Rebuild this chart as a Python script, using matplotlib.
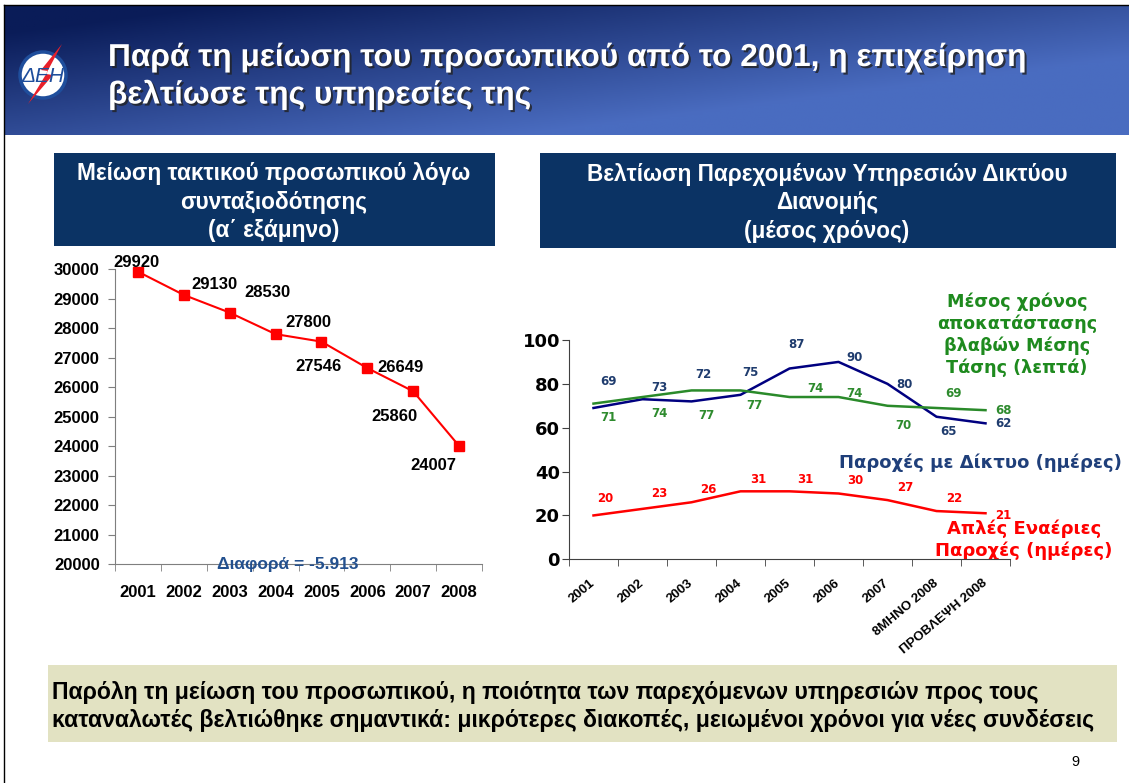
import numpy as np
import matplotlib
matplotlib.use("Agg")
import matplotlib.pyplot as plt
import matplotlib.patheffects as pe
from matplotlib.patches import Rectangle, Circle, Polygon

# ---- data ----
staff_years = ["2001", "2002", "2003", "2004", "2005", "2006", "2007", "2008"]
staff = [29920, 29130, 28530, 27800, 27546, 26649, 25860, 24007]
staff_diff = "Διαφορά = -5.913"

svc_labels = ["2001", "2002", "2003", "2004", "2005", "2006", "2007",
              "8ΜΗΝΟ 2008", "ΠΡΟΒΛΕΨΗ 2008"]
network = [69, 73, 72, 75, 87, 90, 80, 65, 62]     # Παροχές με Δίκτυο
repair = [71, 74, 77, 77, 74, 74, 70, 69, 68]      # Μέσος χρόνος αποκατάστασης
simple = [20, 23, 26, 31, 31, 30, 27, 22, 21]      # Απλές Εναέριες Παροχές

# label offsets (pixels) for data labels
staff_off = [(-2, 9), (31, 10), (38, 20), (33, 12), (-3, -25), (33, 1), (-19, -25), (-26, -20)]
net_off = [(15, 26), (17, 12), (12, 27), (10, 22), (7, 24), (16, 4), (17, -1), (12, -15), (18, 0)]
rep_off = [(15, -14), (17, -16), (15, -25), (14, -15), (26, 9), (16, 4), (16, -20), (17, 14), (18, 0)]
sim_off = [(12, 17), (17, 15), (17, 13), (18, 12), (16, 12), (17, 13), (18, 13), (18, 13), (18, -2)]

W, H = 1129, 783
fig = plt.figure(figsize=(W / 100, H / 100), dpi=100)
fig.patch.set_facecolor("white")

bg = fig.add_axes([0, 0, 1, 1])
bg.set_xlim(0, W)
bg.set_ylim(H, 0)
bg.axis("off")

# banner gradient
gx, gy = np.meshgrid(np.linspace(0, 1, 400), np.linspace(0, 1, 60))
t = np.clip(0.85 * gx + 0.75 * gy - 0.15, 0, 1)
c0 = np.array([0x0a, 0x1c, 0x58]) / 255
c1 = np.array([0x4a, 0x6c, 0xc0]) / 255
grad = c0 + (c1 - c0) * t[..., None]
bg.imshow(grad, extent=[5, W, 135, 6], aspect="auto", zorder=0)

# slide frame
bg.plot([3.5, 3.5], [5, H], color="black", lw=1)
bg.plot([3.5, W], [5, 5], color="black", lw=1)

# logo
bg.add_patch(Circle((43, 75), 23, facecolor="white", edgecolor="#1f4e9c", lw=2.5, zorder=2))
bg.add_patch(Polygon([(62, 44), (41, 70), (48, 71), (28, 104), (53, 75), (46, 74)],
                     closed=True, facecolor="#e8202a", edgecolor="none", zorder=3))
bg.text(43, 77, "ΔΕΗ", color="#1f4e9c", fontsize=15, style="italic",
        ha="center", va="center", family="Liberation Sans", zorder=4)

title_fx = [pe.withSimplePatchShadow(offset=(1.5, -1.5), shadow_rgbFace="#222222", alpha=0.8)]
bg.text(108, 58, "Παρά τη μείωση του προσωπικού από το 2001, η επιχείρηση",
        color="white", fontsize=22.8, weight="bold", family="Liberation Sans",
        va="center", ha="left", path_effects=title_fx)
bg.text(108, 95, "βελτίωσε της υπηρεσίες της",
        color="white", fontsize=22.8, weight="bold", family="Liberation Sans",
        va="center", ha="left", path_effects=title_fx)

# header boxes
navy = "#0b3364"
bg.add_patch(Rectangle((54, 153), 441, 93, facecolor=navy, edgecolor="none"))
bg.text(274, 202, "Μείωση τακτικού προσωπικού λόγω\nσυνταξιοδότησης\n(α΄ εξάμηνο)",
        color="white", fontsize=16.3, weight="bold", family="Liberation Sans",
        ha="center", va="center", linespacing=1.28)
bg.add_patch(Rectangle((540, 153), 576, 95, facecolor=navy, edgecolor="none"))
bg.text(827, 203, "Βελτίωση Παρεχομένων Υπηρεσιών Δικτύου\nΔιανομής\n(μέσος χρόνος)",
        color="white", fontsize=16.3, weight="bold", family="Liberation Sans",
        ha="center", va="center", linespacing=1.32)

# bottom note
bg.add_patch(Rectangle((48, 665), 1069, 77, facecolor="#e2e2c2", edgecolor="none"))
bg.text(52, 692, "Παρόλη τη μείωση του προσωπικού, η ποιότητα των παρεχόμενων υπηρεσιών προς τους",
        fontsize=16.6, weight="bold", family="Liberation Sans", va="center")
bg.text(52, 720, "καταναλωτές βελτιώθηκε σημαντικά: μικρότερες διακοπές, μειωμένοι χρόνοι για νέες συνδέσεις",
        fontsize=16.6, weight="bold", family="Liberation Sans", va="center")
bg.text(1075, 762, "9", fontsize=10.5, family="Liberation Sans", ha="center", va="center")


def px_axes(x0, y_top, x1, y_bot):
    return fig.add_axes([x0 / W, 1 - y_bot / H, (x1 - x0) / W, (y_bot - y_top) / H])


# ---- left chart ----
ax1 = px_axes(115, 269.3, 482, 564)
ax1.patch.set_alpha(0)
xs = np.arange(len(staff))
ax1.plot(xs, staff, color="#ff0000", lw=1.5, marker="s", ms=7,
         mfc="#ff0000", mec="#ff0000", clip_on=False)
for i, v in enumerate(staff):
    ax1.annotate(str(v), (i, v), xytext=staff_off[i], textcoords="offset pixels",
                 ha="center", va="center", fontsize=12, weight="bold",
                 family="Liberation Sans", color="black")
ax1.set_xlim(-0.5, len(staff) - 0.5)
ax1.set_ylim(20000, 30000)
ax1.set_yticks(range(20000, 30001, 1000))
ax1.set_xticks(xs)
ax1.set_xticklabels(staff_years)
ax1.set_xticks(np.arange(-0.5, len(staff)), minor=True)
ax1.tick_params(axis="x", which="major", length=0, pad=15)
ax1.tick_params(axis="x", which="minor", length=5, direction="out", color="#7f7f7f")
ax1.tick_params(axis="y", length=5, direction="out", color="#7f7f7f", pad=6)
for lab in ax1.get_xticklabels() + ax1.get_yticklabels():
    lab.set_fontweight("bold")
    lab.set_fontfamily("Liberation Sans")
    lab.set_fontsize(12)
for s in ["top", "right"]:
    ax1.spines[s].set_visible(False)
for s in ["left", "bottom"]:
    ax1.spines[s].set_color("#7f7f7f")
ax1.text(0.47, 0.0, staff_diff, transform=ax1.transAxes, ha="center", va="center",
         fontsize=12.5, weight="bold", family="Liberation Sans", color="#23508e")

# ---- right chart ----
ax2 = px_axes(569, 340, 1010, 559.3)
ax2.patch.set_alpha(0)
xs2 = np.arange(len(svc_labels))
series = [
    (network, "#000080", "#1f3c6e", net_off),
    (repair, "#2a8a2a", "#2e8b2e", rep_off),
    (simple, "#ff0000", "#ff0000", sim_off),
]
for vals, lc, tc, offs in series:
    ax2.plot(xs2, vals, color=lc, lw=1.8, clip_on=False)
    for i, v in enumerate(vals):
        ax2.annotate(str(v), (i, v), xytext=offs[i], textcoords="offset pixels",
                     ha="center", va="center", fontsize=8.5, weight="bold",
                     family="DejaVu Sans", color=tc)
ax2.set_xlim(-0.5, len(svc_labels) - 0.5)
ax2.set_ylim(0, 100)
ax2.set_yticks(range(0, 101, 20))
ax2.set_xticks(xs2)
ax2.set_xticklabels(svc_labels, rotation=40, ha="right", va="center", rotation_mode="anchor")
ax2.set_xticks(np.arange(-0.5, len(svc_labels)), minor=True)
ax2.tick_params(axis="x", which="major", length=0, pad=16)
ax2.tick_params(axis="x", which="minor", length=5, direction="out", color="#404040")
ax2.tick_params(axis="y", length=5, direction="out", color="#404040", pad=1.5)
for lab in ax2.get_xticklabels():
    lab.set_fontweight("bold")
    lab.set_fontfamily("Liberation Sans")
    lab.set_fontsize(9.5)
for lab in ax2.get_yticklabels():
    lab.set_fontweight("bold")
    lab.set_fontfamily("DejaVu Sans")
    lab.set_fontsize(13)
for s in ["top", "right"]:
    ax2.spines[s].set_visible(False)
for s in ["left", "bottom"]:
    ax2.spines[s].set_color("#404040")

bg.text(1017, 335, "Μέσος χρόνος\nαποκατάστασης\nβλαβών Μέσης\nΤάσης (λεπτά)",
        color="#1e8a1e", fontsize=12.7, weight="bold", family="DejaVu Sans",
        ha="center", va="center", linespacing=1.23, zorder=5)
bg.text(980, 463, "Παροχές με Δίκτυο (ημέρες)", color="#1f3f7a", fontsize=13,
        weight="bold", family="DejaVu Sans", ha="center", va="center", zorder=5)
bg.text(1024, 540, "Απλές Εναέριες\nΠαροχές (ημέρες)", color="#ff0000", fontsize=13,
        weight="bold", family="DejaVu Sans", ha="center", va="center",
        linespacing=1.21, zorder=5)

fig.savefig("out.png", dpi=100)
